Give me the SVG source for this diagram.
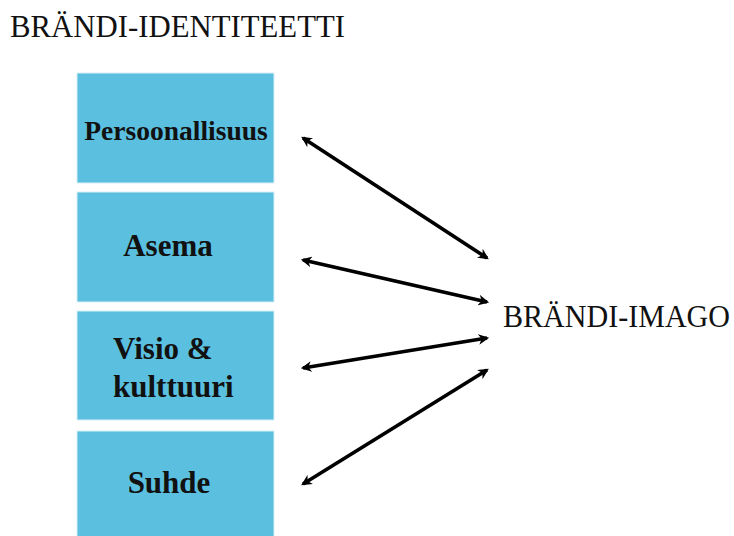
<svg xmlns="http://www.w3.org/2000/svg" width="734" height="536" viewBox="0 0 734 536">
<defs>
<style>
.box{fill:#5bc0df;stroke:#d8eff6;stroke-width:1}
.lbl{font-family:"Liberation Serif","Times New Roman",serif;font-weight:bold;font-size:31px;fill:#111}
.hdr{font-family:"Liberation Serif","Times New Roman",serif;font-size:30.5px;fill:#111}
.con{stroke:#000;stroke-width:3.6;fill:none;marker-start:url(#ah);marker-end:url(#ah)}
</style>
<marker id="ah" viewBox="0 0 10 10" refX="8" refY="5" markerWidth="3" markerHeight="3" orient="auto-start-reverse" markerUnits="strokeWidth">
<path d="M0,0 L10,5 L0,10 L3,5 z" fill="#000"/>
</marker>
</defs>
<rect width="734" height="536" fill="#fff"/>
<text class="hdr" x="10" y="37" textLength="335" lengthAdjust="spacingAndGlyphs">BRÄNDI-IDENTITEETTI</text>
<g id="persoonallisuus">
<rect class="box" x="77" y="73" width="197" height="110"/>
<text class="lbl" x="176" y="140" text-anchor="middle" style="font-size:27.5px">Persoonallisuus</text>
</g>
<g id="asema">
<rect class="box" x="77" y="192" width="197" height="110"/>
<text class="lbl" x="168" y="256" text-anchor="middle">Asema</text>
</g>
<g id="visio">
<rect class="box" x="77" y="311" width="197" height="109"/>
<text class="lbl" x="113" y="359">Visio &amp;</text>
<text class="lbl" x="113" y="397">kulttuuri</text>
</g>
<g id="suhde">
<rect class="box" x="77" y="431" width="197" height="110"/>
<text class="lbl" x="169" y="493" text-anchor="middle">Suhde</text>
</g>
<g id="imago">
<text class="hdr" x="503" y="327" textLength="227" lengthAdjust="spacingAndGlyphs">BRÄNDI-IMAGO</text>
</g>
<g id="connectors">
<line class="con" x1="303" y1="138" x2="487" y2="258"/>
<line class="con" x1="303" y1="260" x2="487" y2="302"/>
<line class="con" x1="303" y1="368" x2="487" y2="338"/>
<line class="con" x1="303" y1="484" x2="487" y2="370"/>
</g>
</svg>
